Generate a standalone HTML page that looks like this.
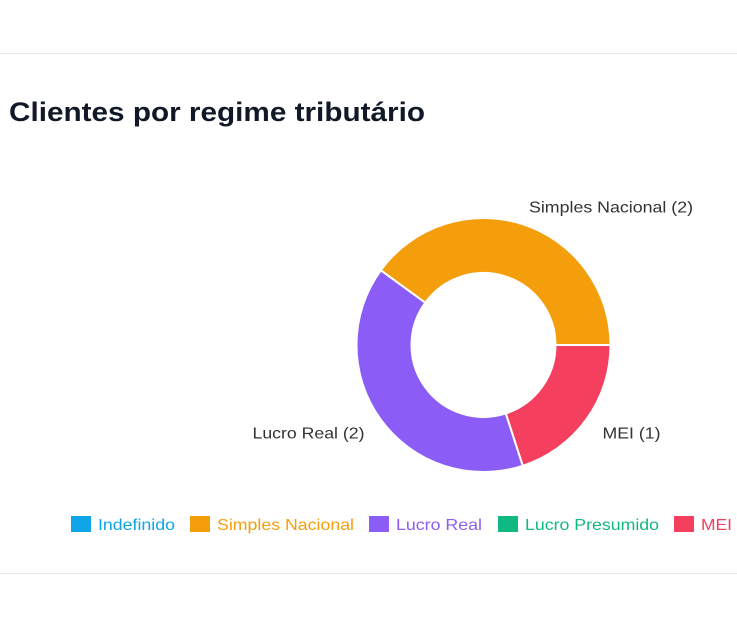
<!DOCTYPE html>
<html><head><meta charset="utf-8">
<style>
html,body{margin:0;padding:0;background:#fff;width:737px;height:625px;overflow:hidden;font-family:"Liberation Sans",sans-serif;}
.card{position:absolute;left:-2px;top:53px;width:760px;height:519px;border-top:1px solid #e5e7eb;border-bottom:1px solid #e5e7eb;}
svg{position:absolute;left:0;top:0;}
</style></head><body>
<div class="card"></div>
<svg id="chart" width="737" height="625">
<text x="9" y="121" font-size="27" font-weight="bold" fill="#111827" textLength="416" lengthAdjust="spacingAndGlyphs">Clientes por regime tributário</text>
</svg>
<script>
const categories=["Indefinido","Simples Nacional","Lucro Real","Lucro Presumido","MEI"];
const values=[0,2,2,0,1];
const colors=["#0ea5e9","#f59e0b","#8b5cf6","#10b981","#f43f5e"];
const drawOrder=[1,4,2,0,3];
const startDeg=-144;
const cx=483.5,cy=345,R=127,r=72;
const legendX=[71,190,369,498,674];
const legendW=[77,137,86,134,31];
const labelW=[100,164,112,150,58];
const NS="http://www.w3.org/2000/svg";
const svg=document.getElementById('chart');
const total=values.reduce((a,b)=>a+b,0);
function pt(a,rad){return [cx+rad*Math.cos(a),cy+rad*Math.sin(a)];}
let ang=startDeg*Math.PI/180;
drawOrder.forEach(i=>{
  const v=values[i];if(!v)return;
  const sweep=v/total*2*Math.PI;const a0=ang,a1=ang+sweep;ang=a1;
  const large=sweep>Math.PI?1:0;
  const p0=pt(a0,R),p1=pt(a1,R),q1=pt(a1,r),q0=pt(a0,r);
  const p=document.createElementNS(NS,'path');
  p.setAttribute('d',`M${p0}A${R},${R} 0 ${large} 1 ${p1}L${q1}A${r},${r} 0 ${large} 0 ${q0}Z`);
  p.setAttribute('fill',colors[i]);p.setAttribute('stroke','#fff');p.setAttribute('stroke-width','2');
  
  
  svg.appendChild(p);
  const mid=(a0+a1)/2;const lp=pt(mid,R+30);
  const t=document.createElementNS(NS,'text');
  const c=Math.cos(mid),s=Math.sin(mid);
  const label=categories[i]+' ('+v+')';
  let x,y,anchor;
  if(s<-0.5){x=lp[0]-3;y=lp[1]+17;anchor=c>=0?'start':'end';}
  else{y=lp[1]+1;if(c>=0){x=lp[0]-8;anchor='start';}else{x=lp[0]+8;anchor='end';}}
  t.setAttribute('x',x.toFixed(1));t.setAttribute('y',y.toFixed(1));
  t.setAttribute('text-anchor',anchor);
  t.setAttribute('font-size','16');t.setAttribute('fill','#333');
  t.setAttribute('textLength',labelW[i]);
  t.setAttribute('lengthAdjust','spacingAndGlyphs');
  t.textContent=label;
  
  
  svg.appendChild(t);
});
categories.forEach((c,i)=>{
  const g=document.createElementNS(NS,'g');
  
  
  const b=document.createElementNS(NS,'rect');
  b.setAttribute('x',legendX[i]);b.setAttribute('y',516);b.setAttribute('width',20);b.setAttribute('height',16);b.setAttribute('fill',colors[i]);
  const t=document.createElementNS(NS,'text');
  t.setAttribute('x',legendX[i]+27);t.setAttribute('y',530);t.setAttribute('font-size','16');t.setAttribute('fill',colors[i]);
  t.setAttribute('textLength',legendW[i]);
  t.setAttribute('lengthAdjust','spacingAndGlyphs');
  t.textContent=c;
  g.appendChild(b);g.appendChild(t);svg.appendChild(g);
});
</script>
</body></html>
